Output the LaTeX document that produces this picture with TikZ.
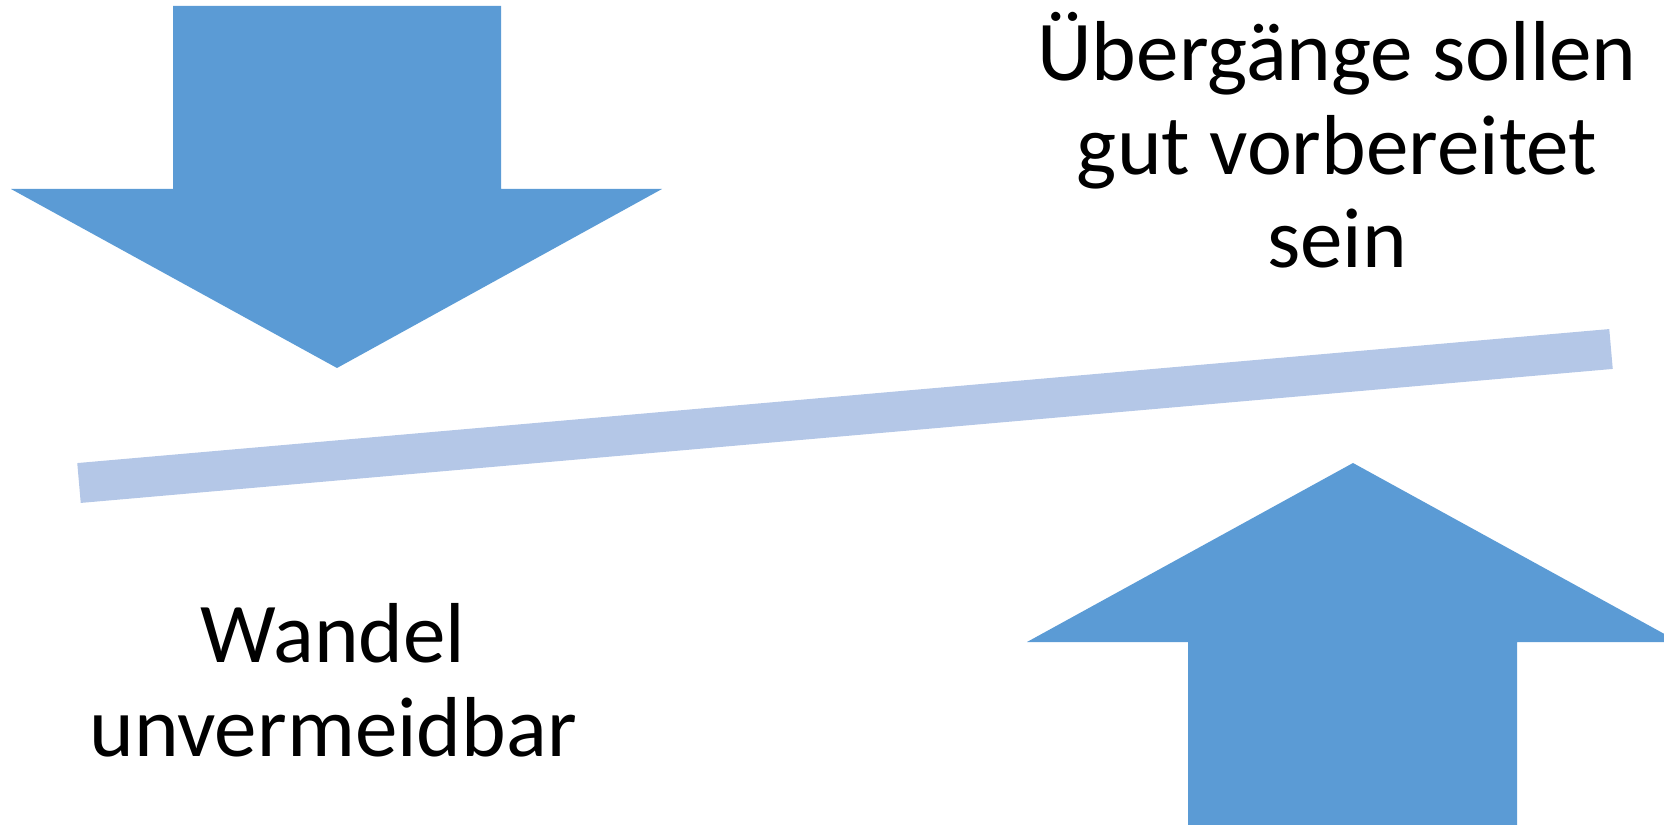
\documentclass[tikz,border=0pt]{standalone}
\usepackage{fontspec}
\setmainfont{Carlito}
\definecolor{arrowblue}{RGB}{91, 155, 213}
\definecolor{beamblue}{RGB}{180, 199, 231}
\usetikzlibrary{positioning}

\begin{document}
\begin{tikzpicture}[x=0.01cm, y=-0.01cm, every node/.style={font=\fontsize{24.2}{26.7}\selectfont, align=center, inner sep=0pt}]
    \tikzset{bigarrow/.style={fill=arrowblue}, beam/.style={draw=beamblue, line width=0.4cm}}
    \useasboundingbox (0,0) rectangle (1664,825);

    % down arrow (top left)
    \fill[bigarrow] (173,6) -- (501,6) -- (501,189) -- (662,189) -- (337,368) -- (11,189) -- (173,189) -- cycle;
    % up arrow (bottom right)
    \fill[bigarrow] (1188,830) -- (1188,642) -- (1027,642) -- (1353,463) -- (1679,642) -- (1517,642) -- (1517,830) -- cycle;

    % the seesaw beam
    \coordinate (beamleft) at (79,483);
    \coordinate (beamright) at (1611,349);
    \draw[beam] (beamleft) -- (beamright);

    \node[anchor=base] (prep) at (1337,268) {Übergänge sollen\\gut vorbereitet\\sein};
    \node[anchor=base] (change) at (333,756) {Wandel\\unvermeidbar};
\end{tikzpicture}
\end{document}
